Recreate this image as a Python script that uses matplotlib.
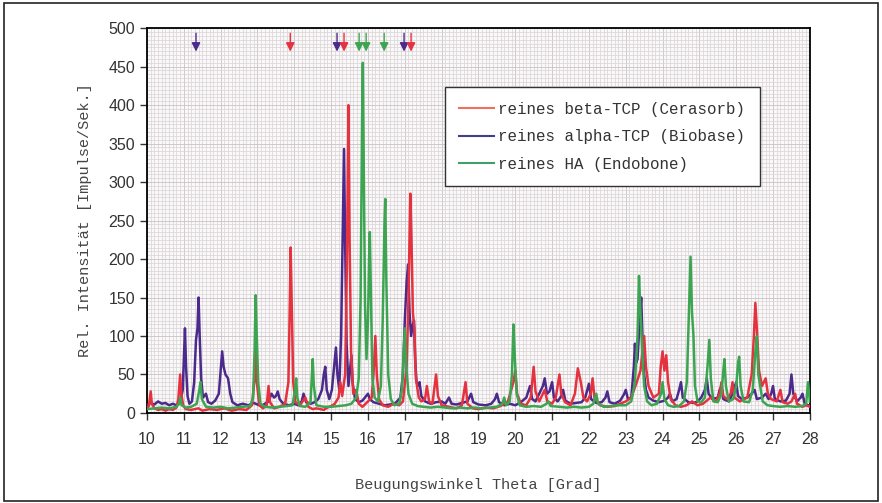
import matplotlib.pyplot as plt
from matplotlib.patches import Rectangle
from matplotlib.ticker import MultipleLocator

# Reflexe beta-TCP (Cerasorb)
beta_x = [10.0, 10.05, 10.08, 10.1, 10.13, 10.2, 10.3, 10.4, 10.5, 10.6, 10.7, 10.8, 10.85, 10.9,
          10.93, 10.98, 11.05, 11.2, 11.4, 11.5, 11.7, 11.9, 12.1, 12.3, 12.5, 12.7, 12.85, 12.92,
          12.95, 12.98, 13.05, 13.15, 13.25, 13.3, 13.34, 13.45, 13.6, 13.75, 13.84, 13.88, 13.9, 13.93,
          13.97, 14.03, 14.15, 14.3, 14.38, 14.5, 14.6, 14.8, 14.9, 15.0, 15.1, 15.2, 15.25, 15.3,
          15.38, 15.43, 15.47, 15.5, 15.54, 15.6, 15.68, 15.75, 15.85, 16.0, 16.1, 16.15, 16.2, 16.24,
          16.3, 16.4, 16.55, 16.7, 16.85, 16.95, 17.05, 17.1, 17.15, 17.18, 17.22, 17.26, 17.3, 17.38,
          17.45, 17.55, 17.6, 17.66, 17.75, 17.85, 17.9, 18.0, 18.2, 18.4, 18.55, 18.65, 18.7, 18.85,
          19.0, 19.2, 19.4, 19.6, 19.8, 19.95, 20.0, 20.05, 20.15, 20.3, 20.42, 20.5, 20.55, 20.65,
          20.8, 20.87, 21.0, 21.1, 21.2, 21.25, 21.35, 21.5, 21.62, 21.7, 21.78, 21.85, 21.95, 22.05,
          22.1, 22.15, 22.3, 22.5, 22.7, 22.85, 23.0, 23.15, 23.3, 23.4, 23.5, 23.55, 23.62, 23.75,
          23.9, 23.95, 24.0, 24.05, 24.1, 24.15, 24.22, 24.35, 24.5, 24.65, 24.8, 24.95, 25.1, 25.3,
          25.45, 25.55, 25.6, 25.65, 25.75, 25.85, 25.9, 25.95, 26.1, 26.3, 26.42, 26.48, 26.52, 26.56,
          26.62, 26.7, 26.8, 26.86, 26.95, 27.1, 27.2, 27.26, 27.4, 27.5, 27.6, 27.65, 27.8, 27.9, 28.0]
beta_y = [6, 9, 20, 28, 12, 6, 4, 5, 3, 5, 4, 7, 18, 50,
          25, 10, 5, 4, 6, 3, 5, 4, 6, 3, 5, 4, 10, 45,
          100, 40, 10, 6, 10, 35, 14, 6, 8, 12, 40, 150, 215, 140,
          40, 14, 10, 20, 8, 5, 6, 4, 7, 9, 12, 20, 40, 22,
          50, 200, 400, 230, 80, 25, 30, 12, 8, 15, 20, 50, 100, 50,
          18, 10, 8, 12, 10, 15, 60, 150, 285, 230, 130, 110, 45, 20,
          15, 18, 35, 15, 12, 50, 22, 10, 8, 6, 10, 40, 12, 6,
          5, 7, 6, 9, 15, 40, 55, 25, 12, 10, 20, 60, 28, 15,
          30, 15, 12, 20, 50, 25, 14, 10, 25, 58, 40, 20, 15, 25,
          45, 20, 10, 8, 9, 12, 15, 20, 40, 55, 100, 60, 35, 20,
          25, 60, 80, 55, 75, 40, 18, 10, 8, 10, 15, 10, 12, 20,
          15, 25, 40, 22, 18, 25, 40, 20, 15, 20, 50, 100, 143, 110,
          55, 35, 45, 25, 18, 15, 30, 14, 12, 15, 25, 12, 8, 10, 8]

# Reflexe alpha-TCP (Biobase)
alpha_x = [10.0, 10.1, 10.2, 10.3, 10.4, 10.5, 10.6, 10.7, 10.8, 10.9, 10.97, 11.0, 11.03, 11.06,
           11.1, 11.15, 11.22, 11.28, 11.33, 11.37, 11.4, 11.43, 11.47, 11.52, 11.6, 11.66, 11.75, 11.85,
           11.95, 12.0, 12.04, 12.08, 12.13, 12.2, 12.26, 12.32, 12.45, 12.6, 12.75, 12.9, 13.0, 13.1,
           13.2, 13.3, 13.38, 13.45, 13.5, 13.55, 13.6, 13.7, 13.85, 14.0, 14.1, 14.2, 14.25, 14.32,
           14.45, 14.55, 14.65, 14.75, 14.8, 14.84, 14.88, 14.95, 15.02, 15.08, 15.13, 15.17, 15.22, 15.27,
           15.32, 15.35, 15.38, 15.42, 15.47, 15.52, 15.55, 15.58, 15.65, 15.75, 15.85, 15.95, 16.0, 16.05,
           16.15, 16.3, 16.45, 16.6, 16.75, 16.88, 16.95, 17.0, 17.05, 17.09, 17.13, 17.17, 17.22, 17.25,
           17.28, 17.32, 17.36, 17.4, 17.45, 17.55, 17.7, 17.85, 18.0, 18.1, 18.2, 18.27, 18.4, 18.55,
           18.7, 18.8, 18.86, 19.0, 19.2, 19.35, 19.45, 19.5, 19.56, 19.7, 19.85, 20.0, 20.15, 20.3,
           20.4, 20.46, 20.55, 20.65, 20.75, 20.8, 20.86, 20.93, 21.0, 21.05, 21.15, 21.25, 21.3, 21.36,
           21.5, 21.65, 21.8, 21.9, 22.0, 22.06, 22.2, 22.35, 22.45, 22.5, 22.56, 22.7, 22.85, 22.95,
           23.0, 23.06, 23.15, 23.22, 23.25, 23.28, 23.32, 23.38, 23.42, 23.46, 23.5, 23.55, 23.62, 23.75,
           23.9, 24.05, 24.15, 24.2, 24.26, 24.38, 24.45, 24.5, 24.55, 24.7, 24.85, 24.95, 25.05, 25.15,
           25.2, 25.25, 25.35, 25.5, 25.55, 25.6, 25.65, 25.8, 25.9, 26.0, 26.05, 26.15, 26.3, 26.42,
           26.5, 26.56, 26.7, 26.8, 26.88, 26.95, 27.0, 27.05, 27.2, 27.35, 27.45, 27.5, 27.55, 27.65,
           27.75, 27.8, 27.86, 27.95, 28.0]
alpha_y = [10, 13, 11, 15, 12, 13, 10, 12, 10, 14, 30, 70, 110, 60,
           22, 12, 15, 40, 95, 110, 150, 100, 45, 20, 25, 14, 12, 16,
           25, 55, 80, 60, 50, 45, 25, 14, 10, 12, 10, 13, 11, 9,
           12, 15, 25, 20, 22, 28, 18, 12, 10, 12, 10, 15, 25, 14,
           12, 14, 18, 30, 50, 60, 30, 18, 30, 60, 85, 50, 30, 100,
           250, 343, 220, 90, 35, 60, 75, 40, 18, 14, 16, 22, 25, 18,
           14, 12, 10, 11, 13, 20, 50, 120, 170, 193, 130, 100, 115, 120,
           70, 40, 35, 40, 22, 15, 12, 14, 15, 12, 20, 12, 11, 13,
           15, 25, 14, 11, 10, 12, 18, 25, 14, 10, 12, 10, 14, 20,
           35, 18, 15, 25, 35, 45, 25, 28, 40, 20, 15, 22, 30, 16,
           12, 13, 14, 20, 38, 18, 13, 14, 20, 28, 14, 12, 16, 24,
           30, 18, 20, 60, 90, 65, 70, 120, 150, 90, 50, 30, 20, 16,
           14, 16, 20, 25, 15, 18, 30, 40, 20, 14, 13, 15, 20, 30,
           45, 25, 18, 20, 30, 35, 18, 15, 25, 40, 22, 18, 20, 25,
           30, 18, 20, 25, 18, 25, 35, 18, 15, 16, 25, 50, 25, 15,
           20, 25, 12, 10, 10]

# Reflexe HA (Endobone)
ha_x = [10.0, 10.2, 10.4, 10.6, 10.8, 10.87, 10.9, 10.94, 11.05, 11.2, 11.35, 11.42, 11.45, 11.49,
        11.6, 11.8, 12.0, 12.2, 12.4, 12.6, 12.8, 12.88, 12.92, 12.95, 12.98, 13.02, 13.08, 13.2,
        13.4, 13.6, 13.8, 13.95, 14.02, 14.05, 14.08, 14.15, 14.3, 14.44, 14.48, 14.5, 14.53, 14.6,
        14.8, 15.0, 15.2, 15.4, 15.55, 15.68, 15.75, 15.8, 15.84, 15.86, 15.89, 15.92, 15.96, 16.0,
        16.03, 16.05, 16.08, 16.12, 16.18, 16.27, 16.35, 16.4, 16.45, 16.47, 16.5, 16.55, 16.62, 16.72,
        16.85, 16.92, 16.97, 17.0, 17.04, 17.1, 17.2, 17.35, 17.5, 17.7, 17.9, 18.1, 18.3, 18.5,
        18.7, 18.9, 19.1, 19.3, 19.5, 19.65, 19.7, 19.75, 19.85, 19.91, 19.95, 19.99, 20.04, 20.12,
        20.3, 20.5, 20.7, 20.85, 20.9, 20.96, 21.2, 21.4, 21.6, 21.8, 22.0, 22.12, 22.2, 22.25,
        22.4, 22.6, 22.8, 23.0, 23.15, 23.25, 23.32, 23.36, 23.4, 23.45, 23.5, 23.58, 23.7, 23.85,
        23.96, 24.0, 24.05, 24.15, 24.3, 24.45, 24.58, 24.66, 24.72, 24.76, 24.8, 24.84, 24.88, 24.95,
        25.05, 25.15, 25.22, 25.27, 25.31, 25.38, 25.5, 25.6, 25.65, 25.68, 25.72, 25.8, 25.92, 26.0,
        26.05, 26.08, 26.12, 26.2, 26.35, 26.45, 26.52, 26.56, 26.6, 26.65, 26.72, 26.85, 27.0, 27.2,
        27.4, 27.6, 27.8, 27.9, 27.95, 28.0]
ha_y = [5, 6, 7, 6, 8, 12, 20, 10, 7, 8, 12, 30, 40, 18,
        8, 7, 8, 6, 7, 8, 9, 20, 80, 153, 100, 40, 12, 8,
        7, 8, 9, 10, 30, 45, 20, 9, 8, 14, 50, 70, 35, 10,
        8, 8, 9, 10, 12, 20, 45, 150, 380, 455, 300, 140, 70, 120,
        200, 235, 150, 45, 20, 15, 35, 120, 250, 278, 170, 50, 18, 10,
        12, 30, 80, 110, 60, 25, 12, 9, 8, 7, 8, 7, 6, 7,
        6, 7, 6, 7, 8, 12, 20, 10, 15, 50, 115, 70, 25, 10,
        8, 9, 8, 12, 15, 9, 8, 7, 8, 7, 8, 12, 25, 12,
        8, 9, 10, 10, 15, 40, 100, 178, 130, 80, 35, 15, 10, 12,
        25, 40, 18, 10, 8, 9, 15, 40, 140, 203, 130, 100, 35, 15,
        14, 20, 60, 95, 45, 15, 14, 25, 55, 70, 35, 15, 18, 35,
        65, 73, 35, 15, 14, 30, 80, 100, 50, 35, 15, 10, 9, 8,
        9, 8, 9, 12, 40, 15]

labels = ['reines beta-TCP (Cerasorb)', 'reines alpha-TCP (Biobase)', 'reines HA (Endobone)']
arrows_beta = [13.89, 15.35, 17.17]
arrows_alpha = [11.33, 15.16, 16.98]
arrows_ha = [15.76, 15.95, 16.44]

RED = '#e5323f'
PURPLE = '#4b2a8c'
GREEN = '#3da552'

fig = plt.figure(figsize=(8.82, 5.03), dpi=100)
ax = fig.add_axes([0.1667, 0.179, 0.7515, 0.765])
ax.set_facecolor('#fbf8fa')

ax.plot(alpha_x, alpha_y, color=PURPLE, lw=1.8, zorder=3)
ax.plot(beta_x, beta_y, color=RED, lw=1.8, zorder=4)
ax.plot(ha_x, ha_y, color=GREEN, lw=1.8, zorder=5)

for xs, c in [(arrows_alpha, PURPLE), (arrows_beta, RED), (arrows_ha, GREEN)]:
    for xa in xs:
        ax.annotate('', xy=(xa, 466), xytext=(xa, 497),
                    arrowprops=dict(arrowstyle='-|>', color=c, lw=1, mutation_scale=13),
                    zorder=6)

ax.set_xlim(10, 28)
ax.set_ylim(0, 500)
ax.xaxis.set_major_locator(MultipleLocator(1))
ax.yaxis.set_major_locator(MultipleLocator(50))
ax.xaxis.set_minor_locator(MultipleLocator(0.1))
ax.yaxis.set_minor_locator(MultipleLocator(5))
ax.grid(which='minor', color='#d8d3d6', lw=0.5)
ax.grid(which='major', color='#c8c2c6', lw=0.6)
ax.set_axisbelow(True)
ax.tick_params(which='minor', length=0)
ax.tick_params(which='major', length=5, width=1, labelsize=11.5, color='#333333',
               labelcolor='#333333')
ax.tick_params(axis='x', pad=9)
for lab in ax.get_xticklabels() + ax.get_yticklabels():
    lab.set_family('Liberation Sans')
for s in ax.spines.values():
    s.set_linewidth(1.3)

ax.set_ylabel('Rel. Intensität [Impulse/Sek.]', family='Liberation Mono', fontsize=11,
              labelpad=12, color='#444444')
ax.set_xlabel('Beugungswinkel Theta [Grad]', family='Liberation Mono', fontsize=11,
              labelpad=22, color='#444444')

hl = [plt.Line2D([], [], color='#f07060', lw=1.5),
      plt.Line2D([], [], color='#404088', lw=1.5),
      plt.Line2D([], [], color='#40a068', lw=1.5)]
leg = ax.legend(hl, labels, loc='upper left', bbox_to_anchor=(0.449, 0.846), borderaxespad=0,
                prop={'family': 'Liberation Mono', 'size': 11.4}, frameon=True, fancybox=False,
                framealpha=1, edgecolor='#333333', handlelength=2.2, handletextpad=0.3,
                labelspacing=0.8, borderpad=0.9)
leg.get_frame().set_linewidth(1)
for t in leg.get_texts():
    t.set_color('#333333')
leg.set_zorder(10)

fig.patches.append(Rectangle((0.004, 0.004), 0.992, 0.99, transform=fig.transFigure,
                             fill=False, edgecolor='#222222', lw=1.2))

fig.savefig('out.png', dpi=100)
